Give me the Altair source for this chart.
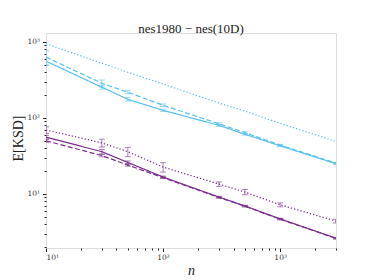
import altair as alt
import pandas as pd

n = [10, 30, 50, 100, 300, 500, 1000, 3000]

blue_solid = [560, 254, 176, 126, 80, 61, 43, 25]
blue_dashed = [632, 286, 218, 147, 84, 64, 44, 25.5]
blue_dotted = [950, 525, 400, 280, 157, 123, 85, 49]
purple_solid = [56, 36, 26, 16.7, 9.1, 6.95, 4.7, 2.62]
purple_dashed = [50, 32, 24, 16.4, 9.0, 6.9, 4.65, 2.6]
purple_dotted = [69.5, 47, 36, 22.6, 13.5, 10.6, 7.2, 4.4]

blue_solid_err = [70, 15, 9, 4, 2.4, 1.5, 1.0, 0.5]
blue_dashed_err = [130, 30, 10, 6, 2.5, 2.0, 1.0, 0.5]
blue_dotted_err = [0, 0, 0, 0, 0, 0, 0, 0]
purple_solid_err = [3, 2.5, 1.2, 0.5, 0.2, 0.15, 0.1, 0.05]
purple_dashed_err = [2, 1.2, 0.8, 0.4, 0.2, 0.15, 0.1, 0.05]
purple_dotted_err = [7, 5.5, 5, 3.2, 0.9, 0.85, 0.43, 0.25]

series = [
    ("blue", "solid", blue_solid, blue_solid_err),
    ("blue", "dashed", blue_dashed, blue_dashed_err),
    ("blue", "dotted", blue_dotted, blue_dotted_err),
    ("purple", "solid", purple_solid, purple_solid_err),
    ("purple", "dashed", purple_dashed, purple_dashed_err),
    ("purple", "dotted", purple_dotted, purple_dotted_err),
]

rows = []
for grp, style, vals, errs in series:
    for xi, v, e in zip(n, vals, errs):
        rows.append({"n": xi, "v": v, "lo": v - e, "hi": v + e, "err": e,
                     "grp": grp, "style": style, "key": grp + "-" + style})
df = pd.DataFrame(rows)
df_err = df[df["err"] > 0]

xdom = [10, 3000]
ydom = [1.945, 1313]
xscale = alt.Scale(type="log", domain=xdom, nice=False)
yscale = alt.Scale(type="log", domain=ydom, nice=False)
color = alt.Color("grp:N", scale=alt.Scale(domain=["blue", "purple"], range=["#56c1ee", "#7b2d8e"]), legend=None)
dash = alt.StrokeDash("style:N", scale=alt.Scale(domain=["solid", "dashed", "dotted"],
                                                  range=[[1, 0], [5, 2.5], [1.3, 2]]), legend=None)

FONT = "Liberation Serif"
LFONT = "DejaVu Serif"
sup = "datum.value == 10 ? '10\u00b9' : datum.value == 100 ? '10\u00b2' : datum.value == 1000 ? '10\u00b3' : ''"

xmajor = alt.Axis(values=[10, 100, 1000], labelExpr=sup, orient="bottom", tickSize=3.5, tickColor="#222",
                  labelFont=LFONT, labelFontSize=7.5, labelColor="#333", labelPadding=2, grid=False,
                  domain=False, title="n", titleFont=FONT, titleFontStyle="italic", titleFontSize=14,
                  titleFontWeight="normal", titleColor="#222", titleY=26, titleBaseline="alphabetic")
ymajor = alt.Axis(values=[10, 100, 1000], labelExpr=sup, orient="left", tickSize=3.5, tickColor="#222",
                  labelFont=LFONT, labelFontSize=7.5, labelColor="#333", labelPadding=3, grid=False,
                  domain=False, title="E[KSD]", titleFont=FONT, titleFontSize=14, titleFontWeight="normal",
                  titleColor="#222", titleAngle=-90, titleX=-21, titleY=105, titleBaseline="bottom",
                  titleAlign="center")
xminor_vals = [20, 30, 40, 50, 60, 70, 80, 90, 200, 300, 400, 500, 600, 700, 800, 900, 2000, 3000]
yminor_vals = [2, 3, 4, 5, 6, 7, 8, 9, 20, 30, 40, 50, 60, 70, 80, 90, 200, 300, 400, 500, 600, 700, 800, 900]
xminor = alt.Axis(values=xminor_vals, labels=False, orient="bottom", tickSize=2, tickColor="#222",
                  grid=False, domain=False, title=None)
yminor = alt.Axis(values=yminor_vals, labels=False, orient="left", tickSize=2, tickColor="#222",
                  grid=False, domain=False, title=None)

base = alt.Chart(df)

lines = base.mark_line(strokeWidth=1.2, clip=True).encode(
    x=alt.X("n:Q", scale=xscale, axis=xmajor),
    y=alt.Y("v:Q", scale=yscale, axis=ymajor),
    color=color,
    strokeDash=dash,
    detail="key:N",
)

minor = base.mark_point(opacity=0, clip=True).encode(
    x=alt.X("n:Q", scale=xscale, axis=xminor),
    y=alt.Y("v:Q", scale=yscale, axis=yminor),
)

ebase = alt.Chart(df_err)
bars = ebase.mark_rule(strokeWidth=1, opacity=0.6, clip=True).encode(
    x=alt.X("n:Q", scale=xscale, axis=None),
    y=alt.Y("lo:Q", scale=yscale, axis=None),
    y2="hi:Q",
    color=color,
)
cap_lo = ebase.mark_rule(strokeWidth=1, opacity=0.6, clip=True, xOffset=-3, x2Offset=3).encode(
    x=alt.X("n:Q", scale=xscale, axis=None),
    x2="n:Q",
    y=alt.Y("lo:Q", scale=yscale, axis=None),
    color=color,
)
cap_hi = ebase.mark_rule(strokeWidth=1, opacity=0.6, clip=True, xOffset=-3, x2Offset=3).encode(
    x=alt.X("n:Q", scale=xscale, axis=None),
    x2="n:Q",
    y=alt.Y("hi:Q", scale=yscale, axis=None),
    color=color,
)

chart = alt.layer(lines, minor, bars, cap_lo, cap_hi).resolve_axis(
    x="independent", y="independent"
).properties(
    width=290,
    height=215,
    autosize=alt.AutoSizeParams(type="none"),
    padding={"left": 38, "top": 25, "right": 30, "bottom": 31},
    title=alt.TitleParams(text="nes1980 \u2212 nes(10D)", font=FONT, fontSize=13, fontWeight="normal",
                          color="#222", offset=1, dy=4, anchor="middle"),
).configure_view(stroke="#222", strokeWidth=1.2).configure(background="white")

chart.save("out.html", embed_options={"renderer": "svg", "actions": False})
